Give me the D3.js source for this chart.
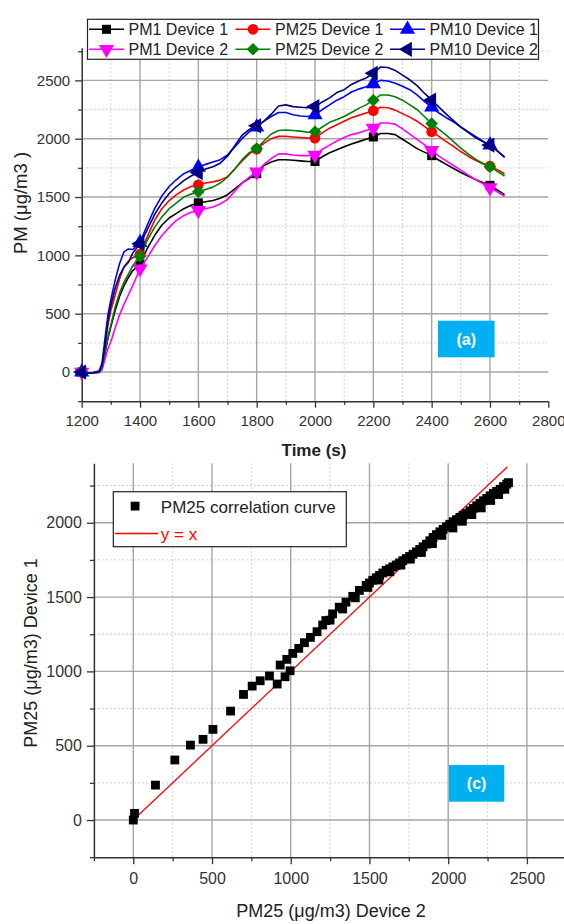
<!DOCTYPE html>
<html>
<head>
<meta charset="utf-8">
<script src="https://cdn.jsdelivr.net/npm/d3@7"></script>
<style>
  body { margin: 0; background: #fff; }
  svg { display: block; }
  text { font-family: "Liberation Sans", Arial, sans-serif; }
</style>
</head>
<body>
<svg id="chart" width="564" height="924"></svg>
<script>
// ---- Panel (a): PM concentration over time (s) ----
const times = [1200, 1230, 1260, 1270, 1280, 1290, 1300, 1315, 1330, 1345, 1360, 1375, 1400,
  1425, 1450, 1475, 1500, 1525, 1550, 1575, 1600, 1625, 1650, 1675, 1700, 1725, 1750, 1775, 1800,
  1825, 1850, 1875, 1900, 1925, 1950, 1975, 2000, 2025, 2050, 2075, 2100, 2125, 2150, 2175, 2200,
  2225, 2250, 2275, 2300, 2325, 2350, 2375, 2400, 2425, 2450, 2475, 2500, 2525, 2550, 2575, 2600,
  2625, 2650];

const pm1Device1 = [0, -10, 0, 40, 160, 290, 390, 530, 650, 740, 810, 870, 925,
  1060, 1170, 1260, 1320, 1360, 1400, 1430, 1450, 1460, 1470, 1490, 1520, 1570, 1620, 1660, 1700,
  1770, 1800, 1820, 1820, 1815, 1810, 1805, 1805, 1845, 1880, 1905, 1930, 1955, 1975, 1995, 2015,
  2045, 2045, 2035, 1995, 1955, 1915, 1885, 1855, 1815, 1780, 1745, 1710, 1680, 1650, 1625, 1600,
  1560, 1520];

const pm25Device1 = [0, -10, 5, 60, 220, 400, 530, 660, 800, 900, 950, 980, 1010,
  1160, 1300, 1400, 1470, 1520, 1560, 1590, 1605, 1620, 1630, 1645, 1675, 1740, 1810, 1870, 1910,
  1960, 2000, 2020, 2020, 2015, 2010, 2005, 2005, 2050, 2090, 2120, 2150, 2180, 2200, 2220, 2240,
  2270, 2265, 2245, 2215, 2185, 2150, 2105, 2060, 2020, 1975, 1935, 1890, 1850, 1815, 1785, 1765,
  1735, 1700];

const pm10Device1 = [0, -10, 10, 80, 290, 490, 620, 790, 930, 1030, 1055, 1050, 1110,
  1260, 1400, 1510, 1590, 1650, 1700, 1730, 1755, 1780, 1800, 1820, 1860, 1930, 2000, 2060, 2100,
  2150, 2190, 2225, 2225, 2205, 2195, 2190, 2205, 2250, 2290, 2330, 2360, 2400, 2425, 2445, 2470,
  2500, 2495, 2475, 2450, 2420, 2375, 2320, 2270, 2220, 2180, 2145, 2100, 2060, 2020, 1980, 1945,
  1895, 1840];

const pm1Device2 = [0, -10, -5, 20, 110, 200, 260, 380, 490, 580, 660, 740, 885,
  980, 1080, 1170, 1240, 1300, 1340, 1370, 1385, 1400, 1415, 1440, 1480, 1550, 1620, 1670, 1715,
  1780, 1830, 1870, 1870, 1860, 1855, 1855, 1860, 1910, 1945, 1980, 2010, 2035, 2050, 2070, 2090,
  2135, 2135, 2125, 2085, 2040, 1995, 1950, 1900, 1850, 1810, 1770, 1730, 1690, 1650, 1615, 1580,
  1545, 1505];

const pm25Device2 = [0, -10, 0, 40, 170, 300, 400, 560, 680, 770, 840, 910, 990,
  1130, 1240, 1330, 1400, 1450, 1500, 1525, 1545, 1565, 1585, 1620, 1670, 1740, 1820, 1880, 1915,
  1980, 2040, 2070, 2075, 2070, 2065, 2055, 2060, 2100, 2140, 2165, 2190, 2225, 2260, 2290, 2330,
  2375, 2375, 2360, 2330, 2290, 2250, 2190, 2130, 2080, 2030, 1975, 1920, 1870, 1825, 1790, 1760,
  1720, 1680];

const pm10Device2 = [0, -10, 0, 60, 230, 440, 570, 720, 830, 900, 940, 1020, 1100,
  1220, 1350, 1450, 1530, 1590, 1640, 1680, 1710, 1740, 1760, 1790, 1850, 1940, 2030, 2080, 2110,
  2150, 2210, 2280, 2290, 2275, 2270, 2265, 2275, 2315, 2350, 2395, 2420, 2465, 2495, 2520, 2560,
  2615, 2610, 2585, 2545, 2505, 2455, 2390, 2330, 2270, 2210, 2155, 2100, 2055, 2010, 1975, 1945,
  1895, 1845];

const markerTimes = [1200, 1400, 1600, 1800, 2000, 2200, 2400, 2600];
const timeTicks = [1200, 1400, 1600, 1800, 2000, 2200, 2400, 2600, 2800];
const pmTicks = [0, 500, 1000, 1500, 2000, 2500];

const seriesNames = ["PM1 Device 1", "PM25 Device 1", "PM10 Device 1",
                     "PM1 Device 2", "PM25 Device 2", "PM10 Device 2"];

// ---- Panel (c): PM25 Device 1 against PM25 Device 2 ----
const corrDevice2 = [0, 8, 141, 264, 363, 443, 506, 618, 700, 755, 806, 865, 914, 933, 964, 975,
  996, 1013, 1051, 1087, 1125, 1167, 1203, 1223, 1266, 1308, 1351, 1394, 1436, 1479, 1500, 1521,
  1543, 1564, 1585, 1606, 1628, 1649, 1670, 1691, 1712, 1734, 1755, 1777, 1798, 1819, 1840, 1862,
  1883, 1904, 1925, 1947, 1968, 1989, 2010, 2032, 2053, 2074, 2095, 2117, 2138, 2160, 2181, 2202,
  2224, 2245, 2266, 2287, 2308, 2330, 2351, 2372, 2383,
  // decay-phase points running just under the rising track
  1250, 1330, 1410, 1490, 1560, 1630, 1700, 1760, 1830, 1900, 1960, 2030, 2090, 2150, 2210, 2270,
  2320, 2360];
const corrDevice1 = [0, 45, 235, 404, 504, 543, 610, 733, 845, 901, 937, 969, 915, 1043, 964, 1081,
  1004, 1121, 1155, 1193, 1229, 1267, 1312, 1342, 1387, 1432, 1466, 1505, 1545, 1579, 1595, 1613,
  1630, 1646, 1662, 1680, 1690, 1703, 1716, 1730, 1745, 1759, 1773, 1788, 1804, 1820, 1838, 1856,
  1879, 1901, 1920, 1939, 1956, 1973, 1990, 2007, 2021, 2036, 2050, 2063, 2080, 2097, 2114, 2131,
  2148, 2164, 2181, 2198, 2211, 2225, 2243, 2260, 2270,
  1345, 1420, 1495, 1565, 1615, 1670, 1715, 1755, 1800, 1860, 1915, 1965, 2010, 2055, 2100, 2150,
  2190, 2225];
const identityRange = [0, 2375];
const corrTicks = [0, 500, 1000, 1500, 2000, 2500];
const corrYTicks = [0, 500, 1000, 1500, 2000];

// ---------------------------------------------------------------
const svg = d3.select("#chart");
const majorGrid = "#a6a6a6", minorGrid = "#cfcfcf", axisColor = "#333", labelColor = "#333";

const styles = [
  { color: "#000000", shape: "square" },
  { color: "#ff0000", shape: "circle" },
  { color: "#0000ff", shape: "up" },
  { color: "#ff00ff", shape: "down" },
  { color: "#008000", shape: "diamond" },
  { color: "#000080", shape: "left" }
];
const seriesValues = [pm1Device1, pm25Device1, pm10Device1, pm1Device2, pm25Device2, pm10Device2];

function symbolPath(shape) {
  switch (shape) {
    case "square": return { d: d3.symbol(d3.symbolSquare, 82)(), rot: 0 };
    case "circle": return { d: d3.symbol(d3.symbolCircle, 90)(), rot: 0 };
    case "up": return { d: d3.symbol(d3.symbolTriangle, 100)(), rot: 0 };
    case "down": return { d: d3.symbol(d3.symbolTriangle, 100)(), rot: 180 };
    case "left": return { d: d3.symbol(d3.symbolTriangle, 100)(), rot: -90 };
    case "diamond": return { d: d3.symbol(d3.symbolSquare, 80)(), rot: 45 };
  }
}

function drawGrid(g, x, y, xMajor, xMinor, yMajor, yMinor) {
  const [x0, x1] = x.range(), [y0, y1] = y.range();
  g.selectAll(".vminor").data(xMinor).join("line")
    .attr("x1", d => x(d)).attr("x2", d => x(d)).attr("y1", y0).attr("y2", y1)
    .attr("stroke", minorGrid).attr("stroke-width", 1).attr("stroke-dasharray", "2,2");
  g.selectAll(".hminor").data(yMinor).join("line")
    .attr("x1", x0).attr("x2", x1).attr("y1", d => y(d)).attr("y2", d => y(d))
    .attr("stroke", minorGrid).attr("stroke-width", 1).attr("stroke-dasharray", "2,2");
  g.selectAll(".vmajor").data(xMajor).join("line")
    .attr("x1", d => x(d)).attr("x2", d => x(d)).attr("y1", y0).attr("y2", y1)
    .attr("stroke", majorGrid).attr("stroke-width", 1.4);
  g.selectAll(".hmajor").data(yMajor).join("line")
    .attr("x1", x0).attr("x2", x1).attr("y1", d => y(d)).attr("y2", d => y(d))
    .attr("stroke", majorGrid).attr("stroke-width", 1.4);
}

function styleAxis(g, fontSize) {
  g.select(".domain").attr("stroke", axisColor).attr("stroke-width", 1.5);
  g.selectAll(".tick line").attr("stroke", axisColor).attr("stroke-width", 1.3);
  g.selectAll(".tick text").attr("fill", labelColor).style("font-size", fontSize + "px")
    .style("font-family", '"Liberation Sans", Arial, sans-serif');
}

// ================= Panel (a) =================
{
  const x = d3.scaleLinear([1200, 2800], [81.7, 548.3]);
  const y = d3.scaleLinear([-250, 2780], [401.2, 47.7]);
  const grid = svg.append("g");
  const xMinor = d3.range(1300, 2800, 200);
  const yMinor = [250, 750, 1250, 1750, 2250, 2750];
  drawGrid(grid, x, y, timeTicks.filter(t => t > 1200 && t < 2800), xMinor,
           pmTicks, yMinor);

  // minor ticks
  const xAxisMinor = svg.append("g").attr("transform", `translate(0,${y.range()[0]})`)
    .call(d3.axisBottom(x).tickValues(xMinor).tickSize(3.5).tickFormat(""));
  styleAxis(xAxisMinor, 15); xAxisMinor.select(".domain").remove();
  const yAxisMinor = svg.append("g").attr("transform", `translate(${x.range()[0]},0)`)
    .call(d3.axisLeft(y).tickValues([-250, ...yMinor]).tickSize(3.5).tickFormat(""));
  styleAxis(yAxisMinor, 15); yAxisMinor.select(".domain").remove();

  const xAxis = svg.append("g").attr("transform", `translate(0,${y.range()[0]})`)
    .call(d3.axisBottom(x).tickValues(timeTicks).tickSize(6.5).tickSizeOuter(0).tickPadding(8).tickFormat(d3.format("d")));
  styleAxis(xAxis, 15);
  const yAxis = svg.append("g").attr("transform", `translate(${x.range()[0]},0)`)
    .call(d3.axisLeft(y).tickValues(pmTicks).tickSize(6.5).tickSizeOuter(0).tickPadding(5).tickFormat(d3.format("d")));
  styleAxis(yAxis, 15);

  // series: line then markers, in plotting order
  const line = d3.line().x(d => x(d[0])).y(d => y(d[1]));
  seriesValues.forEach((vals, i) => {
    const pts = times.map((t, k) => [t, vals[k]]);
    svg.append("path").datum(pts).attr("d", line)
      .attr("fill", "none").attr("stroke", styles[i].color).attr("stroke-width", 1.6)
      .attr("stroke-linejoin", "round");
    const sym = symbolPath(styles[i].shape);
    const mk = markerTimes.map(t => [t, vals[times.indexOf(t)]]);
    svg.append("g").selectAll("path").data(mk).join("path")
      .attr("d", sym.d)
      .attr("transform", d => `translate(${x(d[0])},${y(d[1])}) rotate(${sym.rot})`)
      .attr("fill", styles[i].color);
  });

  // axis titles
  svg.append("text").attr("x", 314).attr("y", 455.5).attr("text-anchor", "middle")
    .style("font-size", "17px").style("font-weight", "bold").attr("fill", "#222").text("Time (s)");
  svg.append("text").attr("transform", "translate(26.5,203) rotate(-90)").attr("text-anchor", "middle")
    .style("font-size", "18.5px").attr("fill", "#222").text("PM (μg/m3 )");

  // legend
  const lg = svg.append("g");
  lg.append("rect").attr("x", 87.5).attr("y", 19.3).attr("width", 451).attr("height", 40)
    .attr("fill", "#fff").attr("stroke", "#222").attr("stroke-width", 1.2);
  const colX = [89, 235.5, 390];
  const rowY = [29.3, 49.3];
  seriesNames.forEach((name, i) => {
    const cx = colX[i % 3], cy = rowY[Math.floor(i / 3)];
    lg.append("line").attr("x1", cx).attr("x2", cx + 35).attr("y1", cy).attr("y2", cy)
      .attr("stroke", styles[i].color).attr("stroke-width", 1.6);
    const sym = symbolPath(styles[i].shape);
    lg.append("path").attr("d", sym.d)
      .attr("transform", `translate(${cx + 17.5},${cy}) rotate(${sym.rot})`)
      .attr("fill", styles[i].color);
    lg.append("text").attr("x", cx + 39.5).attr("y", cy + 5.8)
      .style("font-size", "16px").attr("fill", "#222").text(name);
  });

  // panel tag
  svg.append("rect").attr("x", 438).attr("y", 320.7).attr("width", 56.6).attr("height", 36.6).attr("fill", "#00b0f0");
  svg.append("text").attr("x", 466.3).attr("y", 344.5).attr("text-anchor", "middle")
    .style("font-size", "16px").style("font-weight", "bold").attr("fill", "#fff").text("(a)");
}

// ================= Panel (c) =================
{
  const x = d3.scaleLinear([-250, 2750], [93.9, 566.3]);
  const y = d3.scaleLinear([-250, 2400], [857.2, 463.3]);
  const grid = svg.append("g");
  const xMinor = [250, 750, 1250, 1750, 2250, 2750];
  const yMinor = [250, 750, 1250, 1750, 2250];
  drawGrid(grid, x, y, corrTicks, xMinor, corrYTicks, yMinor);

  const xAxisMinor = svg.append("g").attr("transform", `translate(0,${y.range()[0]})`)
    .call(d3.axisBottom(x).tickValues([-250, ...xMinor]).tickSize(4).tickFormat(""));
  styleAxis(xAxisMinor, 16); xAxisMinor.select(".domain").remove();
  const yAxisMinor = svg.append("g").attr("transform", `translate(${x.range()[0]},0)`)
    .call(d3.axisLeft(y).tickValues([-250, ...yMinor]).tickSize(4).tickFormat(""));
  styleAxis(yAxisMinor, 16); yAxisMinor.select(".domain").remove();

  const xAxis = svg.append("g").attr("transform", `translate(0,${y.range()[0]})`)
    .call(d3.axisBottom(x).tickValues(corrTicks).tickSize(7).tickSizeOuter(0).tickPadding(8).tickFormat(d3.format("d")));
  styleAxis(xAxis, 16);
  const yAxis = svg.append("g").attr("transform", `translate(${x.range()[0]},0)`)
    .call(d3.axisLeft(y).tickValues(corrYTicks).tickSize(7).tickSizeOuter(0).tickPadding(5).tickFormat(d3.format("d")));
  styleAxis(yAxis, 16);

  // y = x reference
  svg.append("line")
    .attr("x1", x(identityRange[0])).attr("y1", y(identityRange[0]))
    .attr("x2", x(identityRange[1])).attr("y2", y(identityRange[1]))
    .attr("stroke", "#ff0000").attr("stroke-width", 1.3);

  // correlation points
  const pts = corrDevice2.map((v, i) => [v, corrDevice1[i]]);
  svg.append("g").selectAll("rect").data(pts).join("rect")
    .attr("x", d => x(d[0]) - 4.4).attr("y", d => y(d[1]) - 4.4)
    .attr("width", 8.8).attr("height", 8.8).attr("fill", "#000");

  // axis titles
  svg.append("text").attr("x", 331).attr("y", 916.5).attr("text-anchor", "middle")
    .style("font-size", "18px").attr("fill", "#222").text("PM25 (μg/m3) Device 2");
  svg.append("text").attr("transform", "translate(37,653) rotate(-90)").attr("text-anchor", "middle")
    .style("font-size", "18px").attr("fill", "#222").text("PM25 (μg/m3) Device 1");

  // legend
  const lg = svg.append("g");
  lg.append("rect").attr("x", 113.3).attr("y", 491.7).attr("width", 233).attr("height", 55)
    .attr("fill", "#fff").attr("stroke", "#222").attr("stroke-width", 1.2);
  lg.append("rect").attr("x", 130.7).attr("y", 501.7).attr("width", 8.8).attr("height", 8.8).attr("fill", "#000");
  lg.append("text").attr("x", 160.8).attr("y", 512.5).style("font-size", "17px").attr("fill", "#222")
    .text("PM25 correlation curve");
  lg.append("line").attr("x1", 115).attr("x2", 158).attr("y1", 533.5).attr("y2", 533.5)
    .attr("stroke", "#ff0000").attr("stroke-width", 1.5);
  lg.append("text").attr("x", 160.8).attr("y", 540).style("font-size", "17px").attr("fill", "#ff0000")
    .text("y = x");

  svg.append("rect").attr("x", 449).attr("y", 765).attr("width", 55.3).attr("height", 36.7).attr("fill", "#00b0f0");
  svg.append("text").attr("x", 476.6).attr("y", 789).attr("text-anchor", "middle")
    .style("font-size", "16px").style("font-weight", "bold").attr("fill", "#fff").text("(c)");
}
</script>
</body>
</html>
